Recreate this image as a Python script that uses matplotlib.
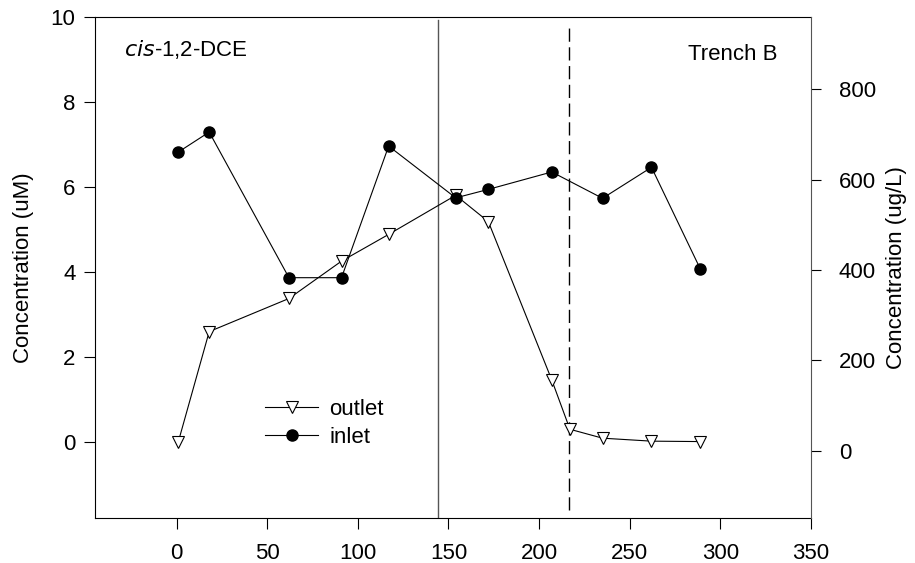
import matplotlib
matplotlib.use("Agg")
import matplotlib.pyplot as plt

plt.rcParams['font.family'] = ['Liberation Sans', 'DejaVu Sans']

# Sampling days and concentrations (uM)
days = [1, 18, 62, 91, 117, 154, 172, 207, 217, 235, 262, 289]
outlet_uM = [0.0, 2.59, 3.37, 4.25, 4.88, 5.80, 5.18, 1.45, 0.29, 0.08, 0.01, 0.0]
inlet_uM = [6.82, 7.29, 3.86, 3.86, 6.96, 5.74, 5.94, 6.35, 5.73, 6.46, 4.06]
inlet_days = [1, 18, 62, 91, 117, 154, 172, 207, 235, 262, 289]

left_ticks = [0, 2, 4, 6, 8, 10]
right_ticks = [0, 200, 400, 600, 800]
x_ticks = [0, 50, 100, 150, 200, 250, 300, 350]

event_solid = 144.5
event_dashed = 216.5

fig = plt.figure(figsize=(9.15, 5.63), dpi=100)
ax = fig.add_axes([95 / 915, 1 - 518 / 563, (811 - 95) / 915, (518 - 17) / 563])

ax.plot(days, outlet_uM, color='black', lw=0.8, marker='v', ms=8.5,
        mfc='white', mec='black', mew=0.8, label='outlet', zorder=3)
ax.plot(inlet_days, inlet_uM, color='black', lw=0.8, marker='o', ms=8,
        mfc='black', mec='black', label='inlet', zorder=3)

ax.axvline(event_solid, ymin=0, ymax=0.995, color='#555555', lw=1.0, zorder=2)
ax.axvline(event_dashed, ymin=0.015, ymax=0.985, color='black', lw=1.0,
           dashes=(9.5, 4), zorder=2)

ax.set_xlim(-45, 350)
ax.set_ylim(-1.8, 10)
ax.set_xticks(x_ticks)
ax.set_yticks(left_ticks)
ax.tick_params(axis='both', direction='out', length=8, width=0.8, labelsize=16, pad=6)
ax.tick_params(axis='x', pad=10)
ax.set_ylabel('Concentration (uM)', fontsize=16, labelpad=12)
ax.spines['right'].set_visible(False)
for s in ['left', 'bottom', 'top']:
    ax.spines[s].set_linewidth(0.8)

ax2 = ax.twinx()
ax2.set_ylim(-149, 960)
ax2.set_yticks(right_ticks)
ax2.tick_params(axis='y', direction='out', length=7, width=0.8, labelsize=16, pad=13)
ax2.set_ylabel('Concentration (ug/L)', fontsize=16, labelpad=7)
for s in ['left', 'bottom', 'top']:
    ax2.spines[s].set_visible(False)
ax2.spines['right'].set_color('#555555')
ax2.spines['right'].set_linewidth(0.8)

ax.text(0.04, 0.935, r'$\it{cis}$-1,2-DCE', transform=ax.transAxes, fontsize=16,
        ha='left', va='center')
ax.text(0.953, 0.925, 'Trench B', transform=ax.transAxes, fontsize=16,
        ha='right', va='center')

leg = ax.legend(loc='upper left', bbox_to_anchor=(0.225, 0.255), frameon=False,
                fontsize=16, handlelength=2.4, handletextpad=0.5,
                labelspacing=0.32, borderaxespad=0)

fig.savefig('out.png', dpi=100)
